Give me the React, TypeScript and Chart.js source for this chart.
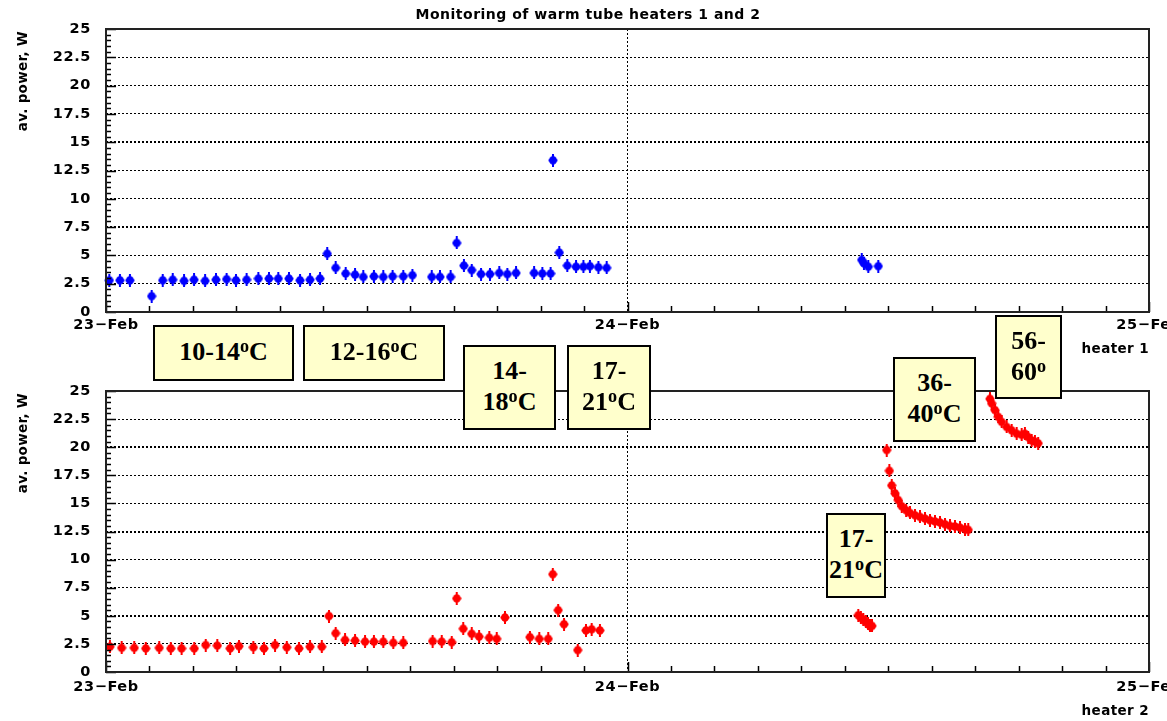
import React, { useEffect, useRef } from "react";
import { Chart, registerables } from "chart.js";

Chart.register(...registerables);

const W = 1167;
const H = 721;

// x values: hours since 23-Feb 00:00
const heater1Hours = [
  0.15, 0.64, 1.1, 2.1, 2.61, 3.07, 3.59, 4.05, 4.56, 5.06, 5.55, 5.98, 6.47, 7.01, 7.5, 7.93, 8.42, 8.93, 9.39, 9.85,
  10.18, 10.57, 11.03, 11.46, 11.84, 12.33, 12.76, 13.19, 13.68, 14.1, 14.99, 15.37, 15.86, 16.14, 16.47, 16.83, 17.26,
  17.67, 18.1, 18.47, 18.87, 19.7, 20.08, 20.46, 20.57, 20.86, 21.23, 21.63, 21.97, 22.27, 22.66, 23.04,
  34.78, 34.88, 35.08, 35.54,
];
const heater1Power = [
  2.8, 2.8, 2.8, 1.4, 2.8, 2.85, 2.75, 2.85, 2.75, 2.85, 2.9, 2.8, 2.85, 2.95, 2.95, 2.95, 2.95, 2.8, 2.85, 2.95,
  5.15, 3.9, 3.4, 3.3, 3.1, 3.15, 3.1, 3.15, 3.15, 3.25, 3.1, 3.1, 3.1, 6.1, 4.1, 3.7, 3.35,
  3.35, 3.45, 3.35, 3.45, 3.45, 3.4, 3.4, 13.4, 5.25, 4.1, 4.0, 4.0, 4.05, 3.95, 3.9,
  4.6, 4.3, 4.0, 4.05,
];

const heater2Hours = [
  0.18, 0.72, 1.3, 1.83, 2.45, 2.98, 3.48, 4.06, 4.59, 5.12, 5.71, 6.12, 6.78, 7.27, 7.78, 8.32, 8.88, 9.39, 9.93,
  10.26, 10.57, 11.0, 11.46, 11.92, 12.33, 12.76, 13.22, 13.68, 15.03, 15.45, 15.91, 16.14, 16.44, 16.83, 17.17,
  17.64, 17.98, 18.36, 19.51, 19.94, 20.35, 20.56, 20.81, 21.08, 21.71, 22.09, 22.35, 22.73,
  34.62, 34.74, 34.85, 34.97, 35.07, 35.16, 35.25,
  35.93, 36.05, 36.16, 36.31, 36.46, 36.62, 36.82, 37.0, 37.23, 37.46, 37.69, 37.92, 38.15, 38.38, 38.61, 38.84,
  39.07, 39.3, 39.53, 39.68,
  40.68, 40.76, 40.91, 41.06, 41.22, 41.45, 41.68, 41.91, 42.14, 42.29, 42.44, 42.6, 42.75, 42.9,
];
const heater2Power = [
  2.25, 2.15, 2.15, 2.1, 2.15, 2.1, 2.1, 2.1, 2.4, 2.35, 2.1, 2.3, 2.2, 2.1, 2.4, 2.2, 2.1, 2.25, 2.25,
  4.98, 3.45, 2.85, 2.8, 2.7, 2.7, 2.7, 2.6, 2.6, 2.75, 2.7, 2.65, 6.55, 3.85, 3.4, 3.15,
  3.05, 2.95, 4.85, 3.1, 2.95, 2.95, 8.7, 5.5, 4.25, 1.95, 3.7, 3.8, 3.7,
  5.05, 4.85, 4.65, 4.45, 4.3, 4.1, 4.1,
  19.75, 17.9, 16.6, 15.9, 15.3, 14.75, 14.4, 14.15, 13.95, 13.8, 13.65, 13.5, 13.4, 13.3, 13.15, 13.0,
  12.95, 12.85, 12.7, 12.65,
  24.3, 23.9, 23.3, 22.7, 22.25, 21.8, 21.5, 21.2, 21.1, 21.2, 20.9, 20.6, 20.5, 20.35,
];

const yTickValues = [0, 2.5, 5, 7.5, 10, 12.5, 15, 17.5, 20, 22.5, 25];
const yTickLabels = ["0", "2.5", "5", "7.5", "10", "12.5", "15", "17.5", "20", "22.5", "25"];
const xTickHours = [0, 24, 48];
const xTickLabels = ["23\u2212Feb", "24\u2212Feb", "25\u2212Feb"];

const chartTitle = "Monitoring of warm tube heaters 1 and 2";
const yAxisTitle = "av. power, W";
const panelNames = ["heater 1", "heater 2"];

const annotationTexts = [
  ["10-14ºC"],
  ["12-16ºC"],
  ["14-", "18ºC"],
  ["17-", "21ºC"],
  ["36-", "40ºC"],
  ["56-", "60º"],
  ["17-", "21ºC"],
];
// layout of callout boxes (pixels)
const annotationBoxes = [
  { left: 153, top: 325, width: 141, height: 56 },
  { left: 303, top: 325, width: 142, height: 56 },
  { left: 463, top: 345, width: 93, height: 85 },
  { left: 567, top: 345, width: 84, height: 85 },
  { left: 893, top: 357, width: 83, height: 85 },
  { left: 995, top: 315, width: 67, height: 84 },
  { left: 826, top: 513, width: 60, height: 85 },
];

const FONT = '"DejaVu Sans", "Liberation Sans", sans-serif';

function makeMarker(color: string): HTMLCanvasElement {
  const c = document.createElement("canvas");
  c.width = 10;
  c.height = 13;
  const g = c.getContext("2d")!;
  g.fillStyle = color;
  g.beginPath();
  g.ellipse(5, 6.5, 4, 4.3, 0, 0, Math.PI * 2);
  g.fill();
  g.fillRect(4, 0, 2, 13);
  g.fillRect(0.5, 5.5, 9, 2);
  return c;
}

type Panel = {
  padTop: number;
  padBottom: number;
  xLabelOffset: number;
  heater: string;
  heaterY: number;
  title?: string;
  bold: number[];
};

function rootPlugin(p: Panel) {
  return {
    id: "rootAxes",
    afterDraw(chart: any) {
      const { ctx, chartArea: a, scales } = chart;
      const xs = scales.x;
      const ys = scales.y;
      ctx.save();
      // inner tick marks
      ctx.strokeStyle = "#000";
      ctx.lineWidth = 1.5;
      ctx.beginPath();
      for (let h = 0; h <= 48; h += 2) {
        const px = Math.round(xs.getPixelForValue(h)) + 0.5;
        const len = h % 24 === 0 ? 10 : 6;
        ctx.moveTo(px, a.bottom);
        ctx.lineTo(px, a.bottom - len);
      }
      for (let i = 0; i <= 50; i++) {
        const py = Math.round(ys.getPixelForValue(i * 0.5)) + 0.5;
        const len = i % 5 === 0 ? 10 : 5;
        ctx.moveTo(a.left, py);
        ctx.lineTo(a.left + len, py);
      }
      ctx.stroke();
      // frame
      ctx.lineWidth = 2;
      ctx.strokeStyle = "#222";
      ctx.strokeRect(a.left, a.top, a.right - a.left, a.bottom - a.top);
      // tick labels
      ctx.fillStyle = "#000";
      ctx.font = `bold 14.5px ${FONT}`;
      ctx.letterSpacing = "0.6px";
      ctx.textAlign = "right";
      ctx.textBaseline = "middle";
      yTickValues.forEach((v, i) => ctx.fillText(yTickLabels[i], a.left - 15, ys.getPixelForValue(v)));
      ctx.textAlign = "center";
      xTickHours.forEach((h, i) => ctx.fillText(xTickLabels[i], xs.getPixelForValue(h), a.bottom + p.xLabelOffset));
      // axis title
      ctx.save();
      ctx.font = `bold 13.5px ${FONT}`;
      ctx.letterSpacing = "0.3px";
      ctx.translate(23, a.top + 2);
      ctx.rotate(-Math.PI / 2);
      ctx.textAlign = "right";
      ctx.textBaseline = "middle";
      ctx.fillText(yAxisTitle, 0, 0);
      ctx.restore();
      // panel name
      ctx.font = `bold 13.5px ${FONT}`;
      ctx.letterSpacing = "0.4px";
      ctx.textAlign = "right";
      ctx.fillText(p.heater, 1149, p.heaterY);
      if (p.title) {
        ctx.font = `bold 14px ${FONT}`;
        ctx.letterSpacing = "0.5px";
        ctx.textAlign = "center";
        ctx.fillText(p.title, 588, 15);
      }
      ctx.restore();
    },
  };
}

function makeChart(canvas: HTMLCanvasElement, hours: number[], power: number[], color: string, p: Panel) {
  const marker = makeMarker(color);
  return new Chart(canvas, {
    type: "scatter",
    data: {
      datasets: [
        {
          data: hours.map((h, i) => ({ x: h, y: power[i] })),
          pointStyle: marker as any,
          pointRadius: 5,
          backgroundColor: color,
          borderColor: color,
          showLine: false,
          clip: false as any,
        },
      ],
    },
    options: {
      responsive: false,
      animation: false,
      devicePixelRatio: 1,
      events: [],
      layout: { padding: { left: 106, right: W - 1149, top: p.padTop, bottom: p.padBottom } },
      plugins: { legend: { display: false }, tooltip: { enabled: false }, title: { display: false } },
      scales: {
        x: {
          type: "linear",
          min: 0,
          max: 48,
          ticks: { display: false, stepSize: 24 },
          grid: {
            drawTicks: false,
            color: (c: any) => (c.tick && c.tick.value === 24 ? "#000" : "rgba(0,0,0,0)"),
            lineWidth: 1,
          },
          border: { display: false, dash: [2, 2] },
        },
        y: {
          type: "linear",
          min: 0,
          max: 25,
          ticks: { display: false, stepSize: 2.5 },
          grid: {
            drawTicks: false,
            color: (c: any) =>
              c.tick && (c.tick.value === 0 || c.tick.value === 25) ? "rgba(0,0,0,0)" : "#000",
            lineWidth: (c: any) => (c.tick && p.bold.includes(c.tick.value) ? 2 : 1),
          },
          border: { display: false, dash: [2, 2] },
        },
      },
    },
    plugins: [rootPlugin(p)],
  });
}

function Callout({ lines, box }: { lines: string[]; box: { left: number; top: number; width: number; height: number } }) {
  return (
    <div
      style={{
        position: "absolute",
        left: box.left,
        top: box.top,
        width: box.width,
        height: box.height,
        boxSizing: "border-box",
        border: "2px solid #000",
        background: "#FFFFCC",
        display: "flex",
        flexDirection: "column",
        alignItems: "center",
        justifyContent: "center",
        fontFamily: '"Liberation Serif", "Times New Roman", serif',
        fontWeight: "bold",
        fontSize: 26,
        lineHeight: "31px",
        color: "#000",
        whiteSpace: "nowrap",
      }}
    >
      {lines.map((ln, i) => {
        const parts = ln.split("º");
        return (
          <div key={i}>
            {parts[0]}
            {parts.length > 1 && (
              <span style={{ fontSize: "0.7em", position: "relative", top: "-0.42em" }}>o</span>
            )}
            {parts.length > 1 && parts[1]}
          </div>
        );
      })}
    </div>
  );
}

export default function App() {
  const topRef = useRef<HTMLCanvasElement>(null);
  const botRef = useRef<HTMLCanvasElement>(null);

  useEffect(() => {
    const c1 = makeChart(topRef.current!, heater1Hours, heater1Power, "#0000FF", {
      padTop: 29,
      padBottom: H - 312,
      xLabelOffset: 13,
      heater: panelNames[0],
      heaterY: 349,
      title: chartTitle,
      bold: [7.5, 15],
    });
    const c2 = makeChart(botRef.current!, heater2Hours, heater2Power, "#FF0000", {
      padTop: 391,
      padBottom: H - 672,
      xLabelOffset: 15,
      heater: panelNames[1],
      heaterY: 711,
      bold: [5, 12.5, 20],
    });
    return () => {
      c1.destroy();
      c2.destroy();
    };
  }, []);

  return (
    <div style={{ position: "fixed", left: 0, top: 0, width: W, height: H, background: "#fff", overflow: "hidden" }}>
      <canvas ref={topRef} width={W} height={H} style={{ position: "absolute", left: 0, top: 0 }} />
      <canvas ref={botRef} width={W} height={H} style={{ position: "absolute", left: 0, top: 0 }} />
      {annotationTexts.map((lines, i) => (
        <Callout key={i} lines={lines} box={annotationBoxes[i]} />
      ))}
    </div>
  );
}
